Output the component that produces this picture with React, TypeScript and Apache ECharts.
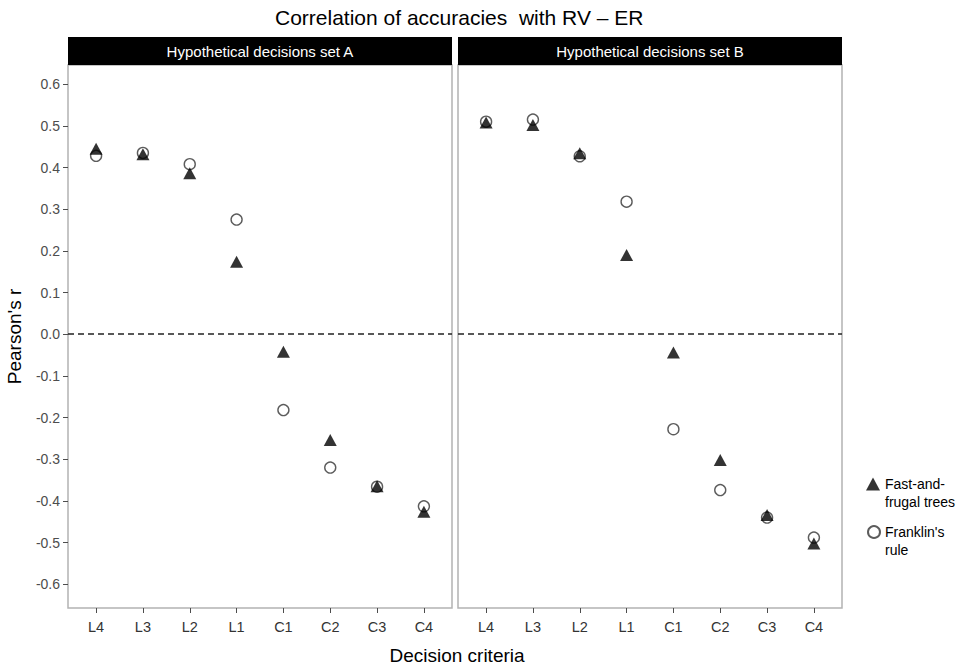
import React, { useEffect, useRef } from "react";
import * as echarts from "echarts";

const categories = ["L4", "L3", "L2", "L1", "C1", "C2", "C3", "C4"];
const yTicks = [-0.6, -0.5, -0.4, -0.3, -0.2, -0.1, 0, 0.1, 0.2, 0.3, 0.4, 0.5, 0.6];
const panelTitles = ["Hypothetical decisions set A", "Hypothetical decisions set B"];
const seriesNames = ["Fast-and-frugal trees", "Franklin's rule"];
const legendLabels = ["Fast-and-\nfrugal trees", "Franklin's\nrule"];

// Panel A
const fftA = [0.445, 0.432, 0.386, 0.174, -0.042, -0.254, -0.365, -0.426];
const frA = [0.428, 0.435, 0.408, 0.275, -0.182, -0.32, -0.366, -0.413];
// Panel B
const fftB = [0.508, 0.502, 0.434, 0.19, -0.044, -0.302, -0.434, -0.502];
const frB = [0.51, 0.515, 0.427, 0.318, -0.228, -0.374, -0.44, -0.488];

const FONT = "Liberation Sans, Arial, Helvetica, sans-serif";

export default function App() {
  const ref = useRef<HTMLDivElement>(null);
  useEffect(() => {
    if (!ref.current) return;
    const chart = echarts.init(ref.current, undefined, { renderer: "svg" });

    const panelLeft = [68, 458];
    const panelW = 384;
    const top = 65;
    const height = 543;
    const yMin = -0.657;
    const yMax = 0.646;
    const xIdx = categories.map((_, i) => i);

    const grids = panelLeft.map((l) => ({
      left: l,
      top,
      width: panelW,
      height,
      show: true,
      borderColor: "#b3b3b3",
      borderWidth: 1.5,
      backgroundColor: "#fff",
    }));

    const xAxes = [0, 1].map((g) => ({
      type: "value",
      gridIndex: g,
      min: -0.6,
      max: 7.6,
      axisLine: { show: false, onZero: false },
      splitLine: { show: false },
      axisTick: {
        show: true,
        customValues: xIdx,
        length: 5,
        lineStyle: { color: "#4d4d4d", width: 1 },
      },
      axisLabel: {
        show: true,
        customValues: xIdx,
        margin: 11,
        color: "#333",
        fontSize: 14.5,
        fontFamily: FONT,
        formatter: (v: number) => categories[Math.round(v)] ?? "",
      },
    }));

    const yAxes = [0, 1].map((g) => ({
      type: "value",
      gridIndex: g,
      min: yMin,
      max: yMax,
      axisLine: { show: false, onZero: false },
      splitLine: { show: false },
      name: g === 0 ? "Pearson's r" : "",
      nameLocation: "middle",
      nameGap: 44,
      nameRotate: 90,
      nameTextStyle: { color: "#000", fontSize: 19, fontFamily: FONT },
      axisTick: {
        show: g === 0,
        customValues: yTicks,
        length: 5,
        lineStyle: { color: "#4d4d4d", width: 1 },
      },
      axisLabel: {
        show: g === 0,
        customValues: yTicks,
        margin: 8,
        color: "#4d4d4d",
        fontSize: 14,
        fontFamily: FONT,
        formatter: (v: number) => v.toFixed(1).replace("-0.0", "0.0"),
      },
    }));

    const circleStyle = {
      color: "rgba(0,0,0,0)",
      borderColor: "#333",
      borderWidth: 1.4,
    };
    const triStyle = { color: "#000" };

    const makeSeries = (g: number, fr: number[], fft: number[]) => [
      {
        name: seriesNames[1],
        type: "scatter",
        xAxisIndex: g,
        yAxisIndex: g,
        symbol: "circle",
        symbolSize: 11,
        itemStyle: circleStyle,
        data: fr.map((v, i) => [i, v]),
        z: 2,
        markLine: {
          silent: true,
          symbol: ["none", "none"],
          label: { show: false },
          lineStyle: { color: "#222", width: 1.5, type: [6, 4] },
          data: [{ yAxis: 0 }],
        },
      },
      {
        name: seriesNames[0],
        type: "scatter",
        xAxisIndex: g,
        yAxisIndex: g,
        symbol: "triangle",
        symbolSize: [13, 12],
        itemStyle: triStyle,
        data: fft.map((v, i) => [i, v]),
        z: 3,
      },
    ];

    const strips = panelLeft.map((l, i) => ({
      type: "group",
      children: [
        {
          type: "rect",
          shape: { x: l, y: 37, width: panelW, height: 28 },
          style: { fill: "#000" },
        },
        {
          type: "text",
          x: l + panelW / 2,
          y: 51,
          style: {
            text: panelTitles[i],
            fill: "#fff",
            fontSize: 15,
            fontFamily: FONT,
            align: "center",
            verticalAlign: "middle",
          },
        },
      ],
    }));

    const legendText = {
      color: "#000",
      fontSize: 14,
      fontFamily: FONT,
      lineHeight: 18,
    };

    chart.setOption({
      animation: false,
      backgroundColor: "#fff",
      title: {
        text: "Correlation of accuracies  with RV – ER",
        left: 270,
        top: 2,
        textStyle: { color: "#000", fontSize: 21, fontWeight: "normal", fontFamily: FONT },
      },
      grid: grids,
      xAxis: xAxes,
      yAxis: yAxes,
      legend: [
        {
          left: 861,
          top: 452,
          itemWidth: 14,
          itemHeight: 13,
          itemGap: 0,
          selectedMode: false,
          data: [{ name: seriesNames[0], icon: "triangle" }],
          formatter: () => "\n" + legendLabels[0],
          textStyle: legendText,
        },
        {
          left: 862,
          top: 500,
          itemWidth: 12,
          itemHeight: 12,
          itemGap: 0,
          selectedMode: false,
          data: [{ name: seriesNames[1], icon: "circle" }],
          formatter: () => "\n" + legendLabels[1],
          textStyle: legendText,
        },
      ],
      graphic: [
        ...strips,
        {
          type: "text",
          x: 457,
          y: 655,
          style: {
            text: "Decision criteria",
            fill: "#000",
            fontSize: 19,
            fontFamily: FONT,
            align: "center",
            verticalAlign: "middle",
          },
        },
      ],
      series: [...makeSeries(0, frA, fftA), ...makeSeries(1, frB, fftB)],
    });

    return () => chart.dispose();
  }, []);

  return (
    <div
      ref={ref}
      style={{ position: "fixed", left: 0, top: 0, width: 969, height: 666 }}
    />
  );
}
